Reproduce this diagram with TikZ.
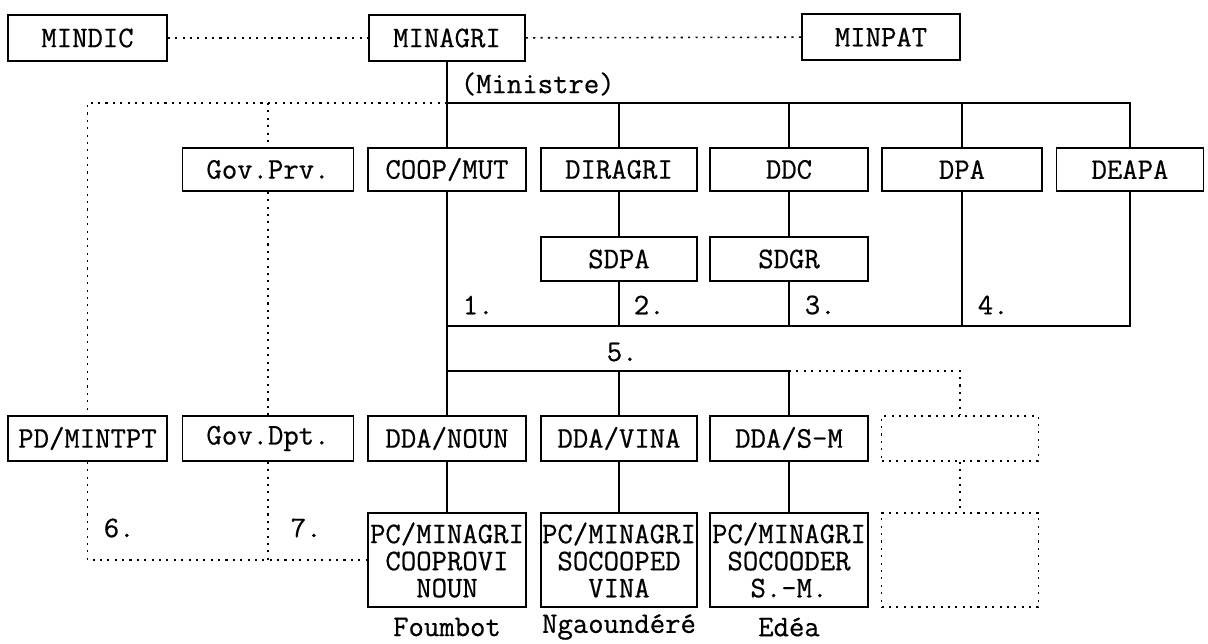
\documentclass[tikz,border=0pt]{standalone}
\usepackage{fontspec}
\usepackage{tikz}
\newfontfamily\printfont[FakeBold=0.6]{Latin Modern Mono}
\tikzset{
	box/.style={draw,inner sep=0pt,minimum width=3.14cm,minimum height=0.88cm,align=center,font=\fontsize{17}{15.4}\selectfont\printfont},
	lab/.style={inner sep=0pt,font=\fontsize{17}{15.4}\selectfont\printfont},
	dotline/.style={dash pattern=on 1.2pt off 3pt},
}

\begin{document}
\begin{tikzpicture}[x=0.02cm,y=-0.02cm,line width=0.9pt]
		\useasboundingbox (0,0) rectangle (1208,643);
		\node[box,minimum width=3.18cm,minimum height=0.92cm] (mindic) at (87.5,38) {MINDIC};
		\node[box,minimum width=3.12cm,minimum height=0.92cm] (minagri) at (447,38) {MINAGRI};
		\node[box,minimum width=3.16cm,minimum height=0.92cm] (minpat) at (881,37) {MINPAT};
		\node[lab,anchor=west] (ministre) at (460,84) {(Ministre)};
		\node[box,minimum width=3.42cm,minimum height=0.86cm] (govprv) at (268,169.5) {Gov.Prv.};
		\node[box,minimum width=3.16cm,minimum height=0.86cm] (coopmut) at (447,169.5) {COOP/MUT};
		\node[box,minimum width=3.12cm,minimum height=0.86cm] (diragri) at (619,169.5) {DIRAGRI};
		\node[box,minimum width=3.16cm,minimum height=0.86cm] (ddc) at (789,169.5) {DDC};
		\node[box,minimum width=3.2cm,minimum height=0.86cm] (dpa) at (962,169.5) {DPA};
		\node[box,minimum width=2.94cm,minimum height=0.86cm] (deapa) at (1130,169.5) {DEAPA};
		\node[box,minimum width=3.12cm] (sdpa) at (619,259) {SDPA};
		\node[box,minimum width=3.16cm] (sdgr) at (789,259) {SDGR};
		\node[box,minimum width=3.18cm,minimum height=0.9cm] (pdmintpt) at (87.5,438.5) {PD/MINTPT};
		\node[box,minimum width=3.42cm,minimum height=0.9cm] (govdpt) at (268,438.5) {Gov.Dpt.};
		\node[box,minimum width=3.16cm,minimum height=0.9cm] (ddanoun) at (447,438.5) {DDA/NOUN};
		\node[box,minimum width=3.12cm,minimum height=0.9cm] (ddavina) at (619,438.5) {DDA/VINA};
		\node[box,minimum width=3.16cm,minimum height=0.9cm] (ddasm) at (789,438.5) {DDA/S-M};
		\node[box,dotline,minimum width=3.14cm,minimum height=0.9cm] (emptya) at (960,438.5) {};
		\node[box,minimum width=3.16cm,minimum height=1.88cm] (pcnoun) at (447,560) {PC/MINAGRI\\COOPROVI\\NOUN};
		\node[box,minimum width=3.12cm,minimum height=1.88cm] (pcvina) at (619,560) {PC/MINAGRI\\SOCOOPED\\VINA};
		\node[box,minimum width=3.16cm,minimum height=1.88cm] (pcsm) at (789,560) {PC/MINAGRI\\SOCOODER\\S.-M.};
		\node[box,dotline,minimum width=3.14cm,minimum height=1.88cm] (emptyb) at (960,560) {};
		\node[lab] (foumbot) at (447,627) {Foumbot};
		\node[lab] (ngaoundere) at (619,627) {Ngaoundéré};
		\node[lab] (edea) at (789,627) {Edéa};
		\node[lab,anchor=west] (one) at (462,305) {1.};
		\node[lab,anchor=west] (two) at (633,305) {2.};
		\node[lab,anchor=west] (three) at (804,305) {3.};
		\node[lab,anchor=west] (four) at (977,305) {4.};
		\node[lab,anchor=west] (five) at (606,352) {5.};
		\node[lab,anchor=west] (six) at (103,528) {6.};
		\node[lab,anchor=west] (seven) at (290,528) {7.};
		\coordinate (bus1) at (447,103);
		\coordinate (bus2) at (447,326);
		\coordinate (bus3) at (447,371);
		\draw[dotline] (mindic) to (minagri);
		\draw[dotline] (minagri) to (minpat);
		\draw (minagri) to (coopmut);
		\draw (bus1) -| (deapa.north);
		\foreach \n in {diragri,ddc,dpa}
		{
		\draw (bus1 -| \n) to (\n.north);
		}
		\draw[dotline] (bus1) -| (pdmintpt.north);
		\draw[dotline] (bus1 -| govprv) to (govprv.north);
		\draw[dotline] (govprv) to (govdpt);
		\draw (diragri) to (sdpa);
		\draw (ddc) to (sdgr);
		\draw (coopmut) to (ddanoun);
		\draw (bus2) -| (deapa.south);
		\foreach \n in {sdpa,sdgr,dpa}
		{
		\draw (\n.south) to (bus2 -| \n);
		}
		\draw (bus3) -| (ddasm.north);
		\draw (bus3 -| ddavina) to (ddavina.north);
		\draw[dotline] (bus3 -| ddasm) -| (emptya.north);
		\draw (ddanoun) to (pcnoun);
		\draw (ddavina) to (pcvina);
		\draw (ddasm) to (pcsm);
		\draw[dotline] (emptya) to (emptyb);
		\draw[dotline] (pdmintpt.south) |- (pcnoun.west);
		\draw[dotline] (govdpt.south) to (govdpt.south |- pcnoun.west);
	\end{tikzpicture}
\end{document}
